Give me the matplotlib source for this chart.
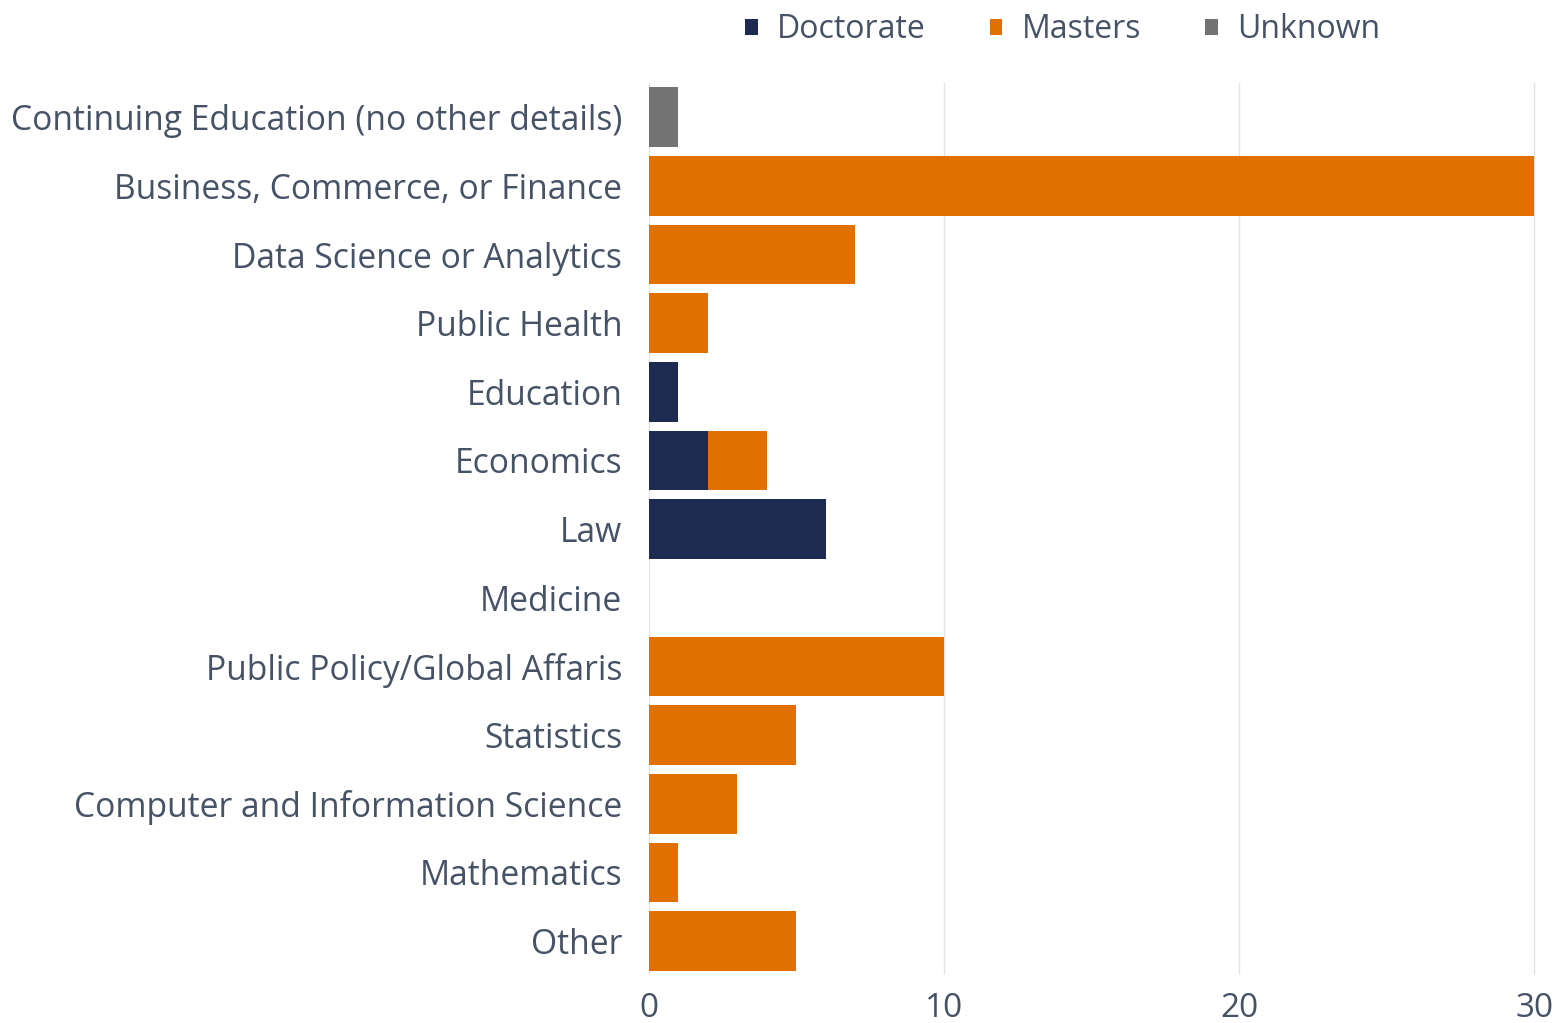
import matplotlib
matplotlib.use("Agg")
import matplotlib.pyplot as plt
import numpy as np

plt.rcParams["font.family"] = ["Open Sans", "DejaVu Sans"]

categories = [
    "Continuing Education (no other details)",
    "Business, Commerce, or Finance",
    "Data Science or Analytics",
    "Public Health",
    "Education",
    "Economics",
    "Law",
    "Medicine",
    "Public Policy/Global Affaris",
    "Statistics",
    "Computer and Information Science",
    "Mathematics",
    "Other",
]
doctorate = [0, 0, 0, 0, 1, 2, 6, 0, 0, 0, 0, 0, 0]
masters = [0, 30, 7, 2, 0, 2, 0, 0, 10, 5, 3, 1, 5]
unknown = [1, 0, 0, 0, 0, 0, 0, 0, 0, 0, 0, 0, 0]
xticks = [0, 10, 20, 30]

C_DOC = "#1c2b4f"
C_MAS = "#e07000"
C_UNK = "#737373"
TXT = "#465266"

fig = plt.figure(figsize=(15.67, 10.23), dpi=100)
ax = fig.add_axes([0.414, 0.0465, 0.566, 0.8725])

y = np.arange(len(categories))
doc = np.array(doctorate)
mas = np.array(masters)
unk = np.array(unknown)
h = 0.87
ax.barh(y, doc, height=h, color=C_DOC, label="Doctorate", zorder=2)
ax.barh(y, mas, left=doc, height=h, color=C_MAS, label="Masters", zorder=2)
ax.barh(y, unk, left=doc + mas, height=h, color=C_UNK, label="Unknown", zorder=2)

ax.set_ylim(len(categories) - 0.5, -0.5)
ax.set_xlim(0, 30.05)
ax.set_yticks(y)
ax.set_yticklabels(categories, fontsize=24.2, color=TXT)
ax.set_xticks(xticks)
ax.set_xticklabels([str(t) for t in xticks], fontsize=24, color=TXT)
ax.tick_params(axis="both", length=0)
ax.tick_params(axis="y", pad=19)
ax.tick_params(axis="x", pad=12)
for s in ax.spines.values():
    s.set_visible(False)
ax.grid(axis="x", color="#e3e3e3", linewidth=1, zorder=0)
ax.set_axisbelow(True)

leg = fig.legend(loc="center", bbox_to_anchor=(0.678, 0.971), ncol=3, frameon=False,
                 fontsize=23, handlelength=0.4, handleheight=0.4,
                 handletextpad=0.6, columnspacing=2.0)
for t in leg.get_texts():
    t.set_color(TXT)

fig.savefig("out.png", dpi=100)
